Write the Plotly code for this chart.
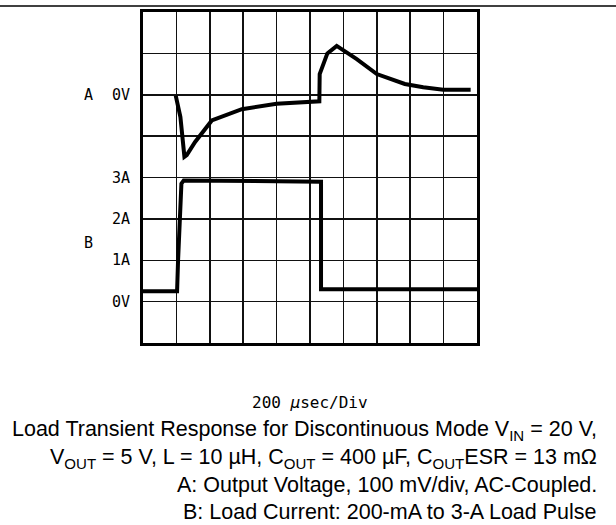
import plotly.graph_objects as go

# ---- data ----
# Trace A: output voltage (AC-coupled), time in µs, deviation in mV
time_a_us = [196, 224, 248, 262, 312, 412, 592, 800, 1056, 1058, 1104, 1160, 1280, 1400, 1568, 1678, 1798, 1962]
volt_a_mv = [-2, -54, -150, -146, -114, -62, -35, -22, -16, 50, 100, 118, 86, 50, 26, 18, 12, 12]

# Trace B: load current, time in µs, current in A
time_b_us = [0, 204, 210, 224, 230, 244, 1066, 1066, 2000]
curr_b_a = [0.25, 0.25, 1.0, 2.6, 2.85, 2.93, 2.9, 0.3, 0.3]

# scope settings
us_per_div = 200
mv_per_div = 100
a_per_div = 1
a_zero_div = 6      # "A 0V" reference grid line
b_zero_div = 1      # "B 0V" reference grid line

b_tick_labels = ["0V", "1A", "2A", "3A"]
b_tick_values = [0, 1, 2, 3]

caption_lines = [
    "Load Transient Response for Discontinuous Mode V<sub>IN</sub> = 20 V,",
    "V<sub>OUT</sub> = 5 V, L = 10 µH, C<sub>OUT</sub> = 400 µF, C<sub>OUT</sub>ESR = 13 mΩ",
    "A: Output Voltage, 100 mV/div, AC-Coupled.",
    "B: Load Current: 200-mA to 3-A Load Pulse",
]

# ---- conversion to screen divisions ----
xa = [t / us_per_div for t in time_a_us]
ya = [a_zero_div + v / mv_per_div for v in volt_a_mv]
xb = [t / us_per_div for t in time_b_us]
yb = [b_zero_div + i / a_per_div for i in curr_b_a]

fig = go.Figure()
fig.add_trace(go.Scatter(x=xa, y=ya, mode="lines",
                         line=dict(color="black", width=4), hoverinfo="skip"))
fig.add_trace(go.Scatter(x=xb, y=yb, mode="lines",
                         line=dict(color="black", width=4), hoverinfo="skip"))

W, H = 616, 525
ML, MR, MT, MB = 143, 139, 9, 182
PW, PH = W - ML - MR, H - MT - MB
X_DIVS, Y_DIVS = 10, 8

axis_common = dict(showgrid=True, gridcolor="#111111", gridwidth=1.5,
                   zeroline=False, showticklabels=False, ticks="",
                   showline=True, linecolor="black", linewidth=3, mirror=True,
                   fixedrange=True)
fig.update_xaxes(range=[0, X_DIVS], dtick=1, tick0=0, **axis_common)
fig.update_yaxes(range=[0, Y_DIVS], dtick=1, tick0=0, **axis_common)


def py(pix):
    return (H - MB - pix) / PH


def px(pix):
    return (pix - ML) / PW


def ydiv(d):
    return d / Y_DIVS


mono = "DejaVu Sans Mono"
lab_font = dict(family=mono, size=15, color="black")
ann = []
# channel A labels
ann.append(dict(x=px(132), y=ydiv(a_zero_div), xref="paper", yref="paper", text="0V",
                xanchor="right", yanchor="middle", showarrow=False, font=lab_font))
ann.append(dict(x=px(88.5), y=ydiv(a_zero_div), xref="paper", yref="paper", text="A",
                xanchor="center", yanchor="middle", showarrow=False, font=lab_font))
# channel B labels
for lab, val in zip(b_tick_labels, b_tick_values):
    ann.append(dict(x=px(132), y=ydiv(b_zero_div + val / a_per_div), xref="paper", yref="paper",
                    text=lab, xanchor="right", yanchor="middle", showarrow=False,
                    font=lab_font))
ann.append(dict(x=px(88), y=py(241.7), xref="paper", yref="paper", text="B",
                xanchor="center", yanchor="middle", showarrow=False, font=lab_font))

# time base label
ann.append(dict(x=px(309.5), y=py(403), xref="paper", yref="paper",
                text="200 <i>µ</i>sec/Div", xanchor="center", yanchor="middle",
                showarrow=False, font=dict(family=mono, size=16, color="black")))

cap_y = [431, 460, 486, 514]
for txt, yy in zip(caption_lines, cap_y):
    ann.append(dict(x=px(599), y=py(yy), xref="paper", yref="paper", text=txt,
                    xanchor="right", yanchor="middle", showarrow=False,
                    font=dict(family="Liberation Sans, Arial", size=21.5, color="black")))

shapes = [dict(type="line", xref="paper", yref="paper",
               x0=px(0), x1=px(W), y0=py(3), y1=py(3),
               line=dict(color="black", width=1.5))]

fig.update_layout(width=W, height=H, margin=dict(l=ML, r=MR, t=MT, b=MB),
                  paper_bgcolor="white", plot_bgcolor="white",
                  showlegend=False, annotations=ann, shapes=shapes)

fig.write_html("out.html", config={"displayModeBar": False, "staticPlot": True},
               post_script="document.body.style.margin='0';document.body.style.padding='0';document.body.style.overflow='hidden';")
